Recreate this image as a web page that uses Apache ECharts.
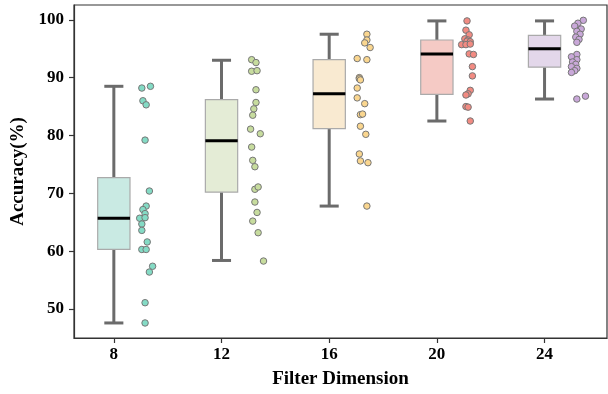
<!DOCTYPE html>
<html>
<head>
<meta charset="utf-8">
<script src="https://cdn.jsdelivr.net/npm/echarts@6/dist/echarts.min.js"></script>
<style>
  html, body { margin: 0; padding: 0; background: #fff; }
  #chart { width: 608px; height: 394px; }
</style>
</head>
<body>
<div id="chart"></div>
<script>
// categories and tick labels
var dims = ["8", "12", "16", "20", "24"];
var dimIdx = [0, 1, 2, 3, 4];
var yTicks = [50, 60, 70, 80, 90, 100];

// box stats: [lower whisker, Q1, median, Q3, upper whisker]
var stats8 = [47.6, 60.3, 65.7, 72.7, 88.5];
var stats12 = [58.4, 70.2, 79.1, 86.2, 93.0];
var stats16 = [67.8, 81.2, 87.2, 93.1, 97.5];
var stats20 = [82.5, 87.1, 94.1, 96.5, 99.8];
var stats24 = [86.3, 91.8, 95.0, 97.3, 99.8];

// raw accuracy points of each run
var acc8 = [88.2, 88.5, 86.0, 85.3, 79.2, 70.4, 67.8, 67.2, 66.5, 65.7, 65.8, 64.7, 63.6, 61.6, 60.3, 60.3, 57.4, 56.4, 51.1, 47.6];
var acc12 = [93.1, 92.6, 91.1, 91.2, 87.9, 85.7, 84.6, 83.5, 81.1, 80.3, 78.0, 75.7, 74.6, 70.7, 71.1, 68.5, 66.7, 65.2, 63.2, 58.3];
var acc16 = [97.5, 96.5, 96.0, 95.2, 93.3, 93.1, 90.0, 89.8, 89.6, 88.2, 86.5, 85.5, 83.6, 83.7, 81.6, 80.2, 76.8, 75.6, 75.3, 67.8];
var acc20 = [99.8, 98.2, 97.4, 96.7, 96.5, 96.3, 96.2, 95.7, 95.7, 95.8, 94.1, 94.0, 91.9, 90.3, 87.8, 87.2, 87.0, 85.0, 84.9, 82.5];
var acc24 = [99.9, 99.4, 98.9, 98.4, 98.0, 97.5, 97.0, 96.6, 96.1, 94.0, 93.6, 93.1, 92.7, 92.3, 91.9, 91.6, 91.2, 90.9, 86.3, 86.8];

// horizontal strip offsets of the points
var jit8 = [0.26, 0.34, 0.27, 0.30, 0.29, 0.33, 0.30, 0.27, 0.29, 0.24, 0.29, 0.26, 0.26, 0.31, 0.26, 0.30, 0.36, 0.33, 0.29, 0.29];
var jit12 = [0.28, 0.32, 0.28, 0.33, 0.32, 0.32, 0.30, 0.29, 0.27, 0.36, 0.28, 0.29, 0.31, 0.31, 0.34, 0.31, 0.33, 0.29, 0.34, 0.39];
var jit16 = [0.35, 0.35, 0.33, 0.38, 0.26, 0.35, 0.28, 0.28, 0.29, 0.26, 0.26, 0.33, 0.29, 0.31, 0.29, 0.34, 0.28, 0.29, 0.36, 0.35];
var jit20 = [0.28, 0.27, 0.30, 0.26, 0.29, 0.28, 0.31, 0.23, 0.27, 0.31, 0.30, 0.34, 0.33, 0.33, 0.31, 0.29, 0.27, 0.27, 0.29, 0.31];
var jit24 = [0.36, 0.31, 0.28, 0.34, 0.30, 0.33, 0.29, 0.32, 0.30, 0.30, 0.25, 0.30, 0.26, 0.29, 0.25, 0.30, 0.28, 0.25, 0.30, 0.38];

var allStats = [stats8, stats12, stats16, stats20, stats24];
var allAcc = [acc8, acc12, acc16, acc20, acc24];
var allJit = [jit8, jit12, jit16, jit20, jit24];

// colours
var ptColors = ["#84dbc5", "#c7dc9e", "#fad68f", "#f28b82", "#c9a8d9"];
var boxColors = ["#c9eae3", "#e4ecd6", "#f9ead1", "#f5cac5", "#e3d7ea"];

var font = '"Liberation Serif", "Times New Roman", serif';

// box + whiskers drawn through the axis scale
function renderBox(params, api) {
  var x = api.value(0);
  var pLo = api.coord([x, api.value(1)]);
  var pQ1 = api.coord([x, api.value(2)]);
  var pMed = api.coord([x, api.value(3)]);
  var pQ3 = api.coord([x, api.value(4)]);
  var pHi = api.coord([x, api.value(5)]);
  var bw = api.size([0.3, 0])[0];
  var cw = api.size([0.177, 0])[0];
  var cx = pMed[0];
  var wStyle = { stroke: "#6b6b6b", lineWidth: 3 };
  return {
    type: "group",
    children: [
      { type: "line", shape: { x1: cx, y1: pLo[1], x2: cx, y2: pQ1[1] }, style: wStyle },
      { type: "line", shape: { x1: cx, y1: pQ3[1], x2: cx, y2: pHi[1] }, style: wStyle },
      { type: "line", shape: { x1: cx - cw / 2, y1: pLo[1], x2: cx + cw / 2, y2: pLo[1] }, style: wStyle },
      { type: "line", shape: { x1: cx - cw / 2, y1: pHi[1], x2: cx + cw / 2, y2: pHi[1] }, style: wStyle },
      {
        type: "rect",
        shape: { x: cx - bw / 2, y: pQ3[1], width: bw, height: pQ1[1] - pQ3[1] },
        style: { fill: boxColors[params.dataIndex], stroke: "#aaaaaa", lineWidth: 1.2 }
      },
      {
        type: "line",
        shape: { x1: cx - bw / 2, y1: pMed[1], x2: cx + bw / 2, y2: pMed[1] },
        style: { stroke: "#000", lineWidth: 3 }
      }
    ]
  };
}

var boxData = dimIdx.map(function(i) {
  return [i].concat(allStats[i]);
});

var series = [
  {
    type: "custom",
    renderItem: renderBox,
    encode: { x: 0, y: [1, 2, 3, 4, 5] },
    data: boxData,
    z: 2
  }
];

dimIdx.forEach(function(i) {
  series.push({
    type: "scatter",
    name: dims[i],
    symbolSize: 6.5,
    itemStyle: { color: ptColors[i], borderColor: "#777", borderWidth: 1, opacity: 1 },
    data: allAcc[i].map(function(v, k) {
      return [i + allJit[i][k], v];
    }),
    z: 3
  });
});

var option = {
  backgroundColor: "#fff",
  animation: false,
  grid: { left: 74, right: 1, top: 5, bottom: 52, show: true, borderColor: "#333", borderWidth: 1.2 },
  xAxis: {
    type: "value",
    min: -0.37,
    max: 4.58,
    name: "Filter Dimension",
    nameLocation: "middle",
    nameGap: 32,
    nameTextStyle: { fontFamily: font, fontWeight: "bold", fontSize: 19, color: "#000" },
    axisLine: { show: true, onZero: false, lineStyle: { color: "#333", width: 1.2 } },
    axisTick: { show: true, customValues: dimIdx, length: 5, lineStyle: { color: "#333", width: 1.2 } },
    axisLabel: {
      customValues: dimIdx,
      margin: 8,
      fontFamily: font,
      fontWeight: "bold",
      fontSize: 17,
      color: "#000",
      formatter: function(v) { return dims[Math.round(v)]; }
    },
    splitLine: { show: false }
  },
  yAxis: {
    type: "value",
    min: 45,
    max: 102.55,
    name: "Accuracy(%)",
    nameLocation: "middle",
    nameGap: 41,
    nameTextStyle: { fontFamily: font, fontWeight: "bold", fontSize: 19, color: "#000" },
    axisLine: { show: true, onZero: false, lineStyle: { color: "#333", width: 1.2 } },
    axisTick: { show: true, customValues: yTicks, length: 5, lineStyle: { color: "#333", width: 1.2 } },
    axisLabel: {
      customValues: yTicks,
      margin: 10,
      fontFamily: font,
      fontWeight: "bold",
      fontSize: 17,
      color: "#000"
    },
    splitLine: { show: false }
  },
  series: series
};

var chart = echarts.init(document.getElementById("chart"));
chart.setOption(option);
</script>
</body>
</html>
